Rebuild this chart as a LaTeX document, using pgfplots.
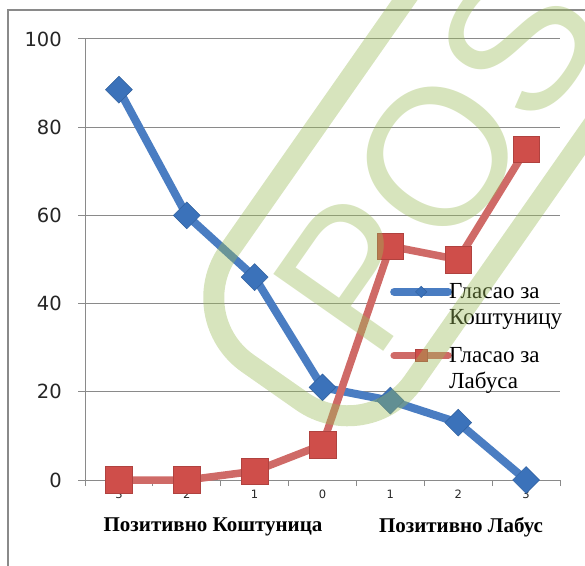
\documentclass[border=0pt]{standalone}
\usepackage{fontspec}
\usepackage{pgfplots}
\pgfplotsset{compat=1.18}
\setmainfont{Liberation Serif}
\newfontfamily\ticksans{DejaVu Sans}
\newfontfamily\wmfont{Liberation Sans}
\definecolor{kblue}{HTML}{4A7DC2}
\definecolor{kbluemark}{HTML}{3B72BA}
\definecolor{kred}{HTML}{CF6A67}
\definecolor{kredmark}{HTML}{CF4E4A}
\definecolor{wm}{HTML}{9BBB59}
\definecolor{axgray}{HTML}{8A8A8A}
\pgfplotsset{
  bluelegend/.style={legend image code/.code={\draw[##1, line cap=round, mark repeat=2, mark phase=2, mark size=4pt]
      plot coordinates {(0pt,7pt)(27pt,7pt)(54pt,7pt)};}},
  redlegend/.style={legend image code/.code={\draw[##1, line cap=round, mark repeat=2, mark phase=2, mark size=6pt]
      plot coordinates {(0pt,7pt)(27pt,7pt)(54pt,7pt)};}},
}

\begin{document}
\begin{tikzpicture}[x=1pt,y=1pt]
\useasboundingbox (0,0) rectangle (585,565);
\clip (0,0) rectangle (585,565);
% chart frame (cut off at right and bottom)
\draw[axgray, line width=2pt] (7.5,-5) -- (7.5,555) -- (590,555);

\begin{axis}[
    at={(85pt,85pt)}, anchor=south west,
    scale only axis,
    width=475pt, height=441pt,
    xmin=-0.5, xmax=6.5,
    ymin=0, ymax=100,
    axis x line*=bottom, axis y line*=left,
    axis line style={axgray, line width=1pt},
    ytick={0,20,...,100},
    ymajorgrids,
    grid style={axgray, line width=1pt},
    xtick={0,...,6},
    xticklabels={3,2,1,0,1,2,3},
    minor xtick={-0.5,0.5,...,6.5},
    major x tick style={draw=none},
    minor x tick style={axgray, line width=1pt},
    major y tick style={axgray, line width=1pt},
    tick align=outside,
    major tick length=7pt,
    minor tick length=6pt,
    /pgf/number format/assume math mode=true,
    yticklabel style={font=\ticksans\fontsize{19.5}{21}\selectfont, text=black!85, inner sep=0pt, anchor=east, xshift=-16pt},
    xticklabel style={font=\ticksans\fontsize{11.5}{12}\selectfont, text=black!85, inner sep=0pt, anchor=north, yshift=-3pt},
    clip=false,
    legend cell align=left,
    legend style={draw=none, fill=none, at={(0.642,0.457)}, anchor=north west,
      font=\fontsize{23}{26}\selectfont, row sep=40pt, inner sep=0pt,
      cells={anchor=base west}},
  ]
  % Гласао за Коштуницу
  \addplot[color=kblue, line width=8pt, mark=square*, mark size=9.5pt,
    mark options={solid, rotate=45, line width=0.5pt, fill=kbluemark, draw=kbluemark!85!black},
    bluelegend]
    coordinates {(0,88.5)(1,60)(2,46)(3,21)(4,18)(5,13)(6,0)};
  \addlegendentry{\begin{tabular}[t]{@{\kern-5pt}l@{}}Гласао за\\Коштуницу\end{tabular}}
  % Гласао за Лабуса
  \addplot[color=kred, line width=7.5pt, mark=square*, mark size=13.3pt,
    mark options={solid, line width=0.5pt, fill=kredmark, draw=kredmark!85!black},
    redlegend]
    coordinates {(0,0)(1,0)(2,2)(3,8)(4,53)(5,50)(6,75)};
  \addlegendentry{\begin{tabular}[t]{@{\kern-5pt}l@{}}Гласао за\\Лабуса\end{tabular}}
\end{axis}

% category group titles
\node[font=\bfseries\fontsize{21}{25}\selectfont] at (213,38) {Позитивно Коштуница};
\node[font=\bfseries\fontsize{21}{25}\selectfont] at (461,38) {Позитивно Лабус};

% watermark
\begin{scope}[shift={(435.5,412)}, rotate=55]
  \draw[wm, line width=21pt, opacity=0.4, rounded corners=80pt] (-280,-113) rectangle (500,113);
\end{scope}
\node[rotate=55, text=wm, opacity=0.4, inner sep=0pt,
  font=\wmfont\fontsize{195}{195}\selectfont] at (438,408) {POS};
\end{tikzpicture}
\end{document}
